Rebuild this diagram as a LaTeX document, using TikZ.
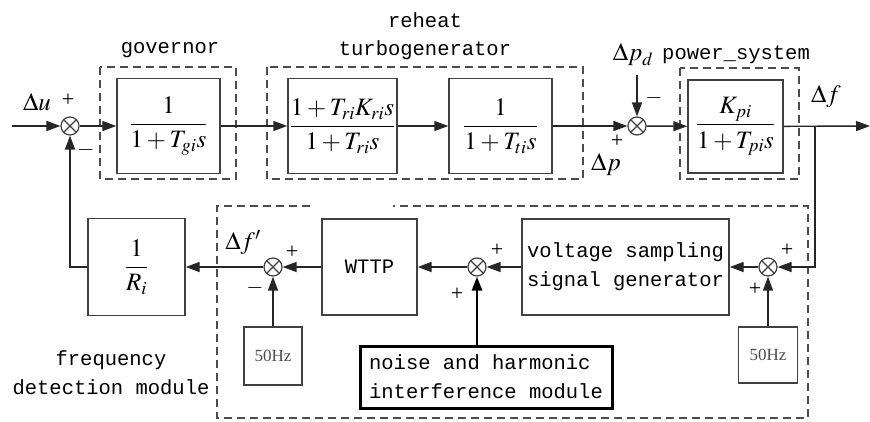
\documentclass[tikz,border=0pt]{standalone}
\usepackage{mathptmx}
\usepackage{fontspec}
\setmainfont{Liberation Serif}
\setmonofont{Liberation Mono}
\usetikzlibrary{arrows.meta}
\tikzset{
 blk/.style={draw=black!75, line width=1.4pt, inner sep=0pt, font=\fontsize{25}{29}\selectfont},
 grp/.style={draw=black!70, line width=1.3pt, dash pattern=on 8pt off 5pt},
 sumj/.style={circle, draw=black!75, line width=1.2pt, minimum size=18pt, inner sep=0pt,
   path picture={\draw[black!75,line width=1.2pt] (path picture bounding box.north west)--(path picture bounding box.south east) (path picture bounding box.north east)--(path picture bounding box.south west);}},
 sig/.style={draw=black!85, line width=1.4pt, -{Triangle[length=14pt,width=10pt]}},
 mono/.style={font=\fontsize{20.5}{29}\selectfont\ttfamily, inner sep=0pt},
 mth/.style={font=\fontsize{25}{28}\selectfont, inner sep=0pt},
 sgn/.style={font=\fontsize{22}{24}\selectfont, inner sep=0pt},
 hz/.style={draw=black!75, line width=1.4pt, inner sep=0pt, font=\fontsize{17}{20}\selectfont, text=black!70},
}
\begin{document}
\begin{tikzpicture}[x=1pt,y=-1pt]
\useasboundingbox (0,0) rectangle (870,421);
% dashed groups
\draw[grp] (100,67) rectangle (236,179);
\draw[grp] (267,67) rectangle (583,179);
\draw[grp] (680,68) rectangle (799,179);
\draw[grp] (310,206) -- (217,206) -- (217,418) -- (808,418) -- (808,206) -- (393,206);
% blocks
\node[blk, minimum width=103pt, minimum height=95pt] (gov) at (168.5,126) {$\displaystyle\frac{1}{1+T_{gi}s}$};
\node[blk, minimum width=109pt, minimum height=95pt] (rh1) at (342.5,126) {$\displaystyle\frac{1+T_{ri}K_{ri}s}{1+T_{ri}s}$};
\node[blk, minimum width=103pt, minimum height=95pt] (rh2) at (500.5,126) {$\displaystyle\frac{1}{1+T_{ti}s}$};
\node[blk, minimum width=95pt, minimum height=93pt] (ps) at (735.5,126.5) {$\displaystyle\frac{K_{pi}}{1+T_{pi}s}$};
\node[blk, minimum width=97pt, minimum height=97pt] (rinv) at (136.5,267) {$\displaystyle\frac{1}{R_i}$};
\node[blk, minimum width=95pt, minimum height=96pt, font=\fontsize{20.5}{29}\selectfont\ttfamily] (wttp) at (369.5,267) {WTTP};
\node[blk, minimum width=207pt, minimum height=96pt, align=left, font=\fontsize{20.5}{29}\selectfont\ttfamily] (vsg) at (625.5,267) {voltage sampling\\signal generator};
\node[hz, minimum width=58pt, minimum height=58pt] (hz1) at (273,356) {50Hz};
\node[hz, minimum width=59pt, minimum height=56pt] (hz2) at (768,355) {50Hz};
\node[draw=black, line width=3pt, minimum width=252pt, minimum height=62pt, inner sep=0pt, align=left, font=\fontsize{20.5}{29}\selectfont\ttfamily] (noise) at (486,377) {noise and harmonic\\interference module};
% summing junctions
\node[sumj] (s1) at (70,126) {};
\node[sumj] (s2) at (637,126) {};
\node[sumj] (s3) at (273,267) {};
\node[sumj] (s4) at (477,267) {};
\node[sumj] (s5) at (768,267) {};
% free ends
\coordinate (in) at (12,126);
\coordinate (out) at (870,126);
\coordinate (br) at (815,126);
\coordinate (pd) at (637,75);
% connectors
\draw[sig] (in) -- (s1);
\draw[sig] (s1) -- (gov);
\draw[sig] (gov) -- (rh1);
\draw[sig] (rh1) -- (rh2);
\draw[sig] (rh2) -- (s2);
\draw[sig] (s2) -- (ps);
\draw[sig] (ps) -- (out);
\draw[sig] (pd) -- (s2);
\draw[sig] (br) |- (s5);
\draw[sig] (s5) -- (vsg);
\draw[sig] (vsg) -- (s4);
\draw[sig, line width=2pt] (s4) -- (wttp);
\draw[sig] (wttp) -- (s3);
\draw[sig] (s3) -- (rinv);
\draw[sig] (rinv.west) -| (s1);
\draw[sig] (hz1) -- (s3);
\draw[sig] (hz2) -- (s5);
\draw[sig, line width=2.5pt, draw=black] (s4 |- noise.north) -- (s4);
% group labels
\node[mono] (lgov) at (170,50) {governor};
\node[mono] (lrh1) at (425,20) {reheat};
\node[mono] (lrh2) at (425,50) {turbogenerator};
\node[mono, anchor=west] (lps) at (662,55) {power\_system};
\node[mono, align=center] (lfd) at (111,373) {frequency\\detection module};
% signal labels
\node[mth] (ldu) at (37,102) {$\Delta u$};
\node[sgn] (p1) at (68,100) {+};
\node[sgn] (m1) at (86,150) {$-$};
\node[mth] (ldpd) at (633,55) {$\Delta p_d$};
\node[sgn] (m2) at (654,98) {$-$};
\node[sgn] (p2) at (617,141) {+};
\node[mth] (ldp) at (606,165) {$\Delta p$};
\node[mth] (ldf) at (826,97) {$\Delta f$};
\node[mth] (ldf2) at (243,243) {$\Delta f'$};
\node[sgn] (p3) at (292,252) {+};
\node[sgn] (m3) at (255,288) {$-$};
\node[sgn] (p4) at (497,250) {+};
\node[sgn] (p5) at (457,294) {+};
\node[sgn] (p6) at (787,250) {+};
\node[sgn] (p7) at (755,289) {+};
\end{tikzpicture}
\end{document}
